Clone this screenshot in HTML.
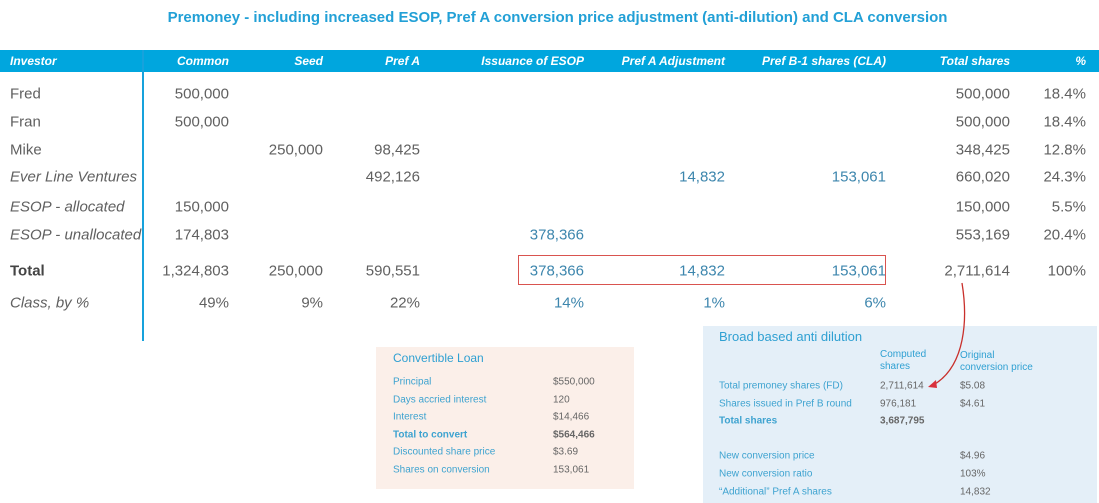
<!DOCTYPE html>
<html><head><meta charset="utf-8"><style>
body{margin:0;width:1099px;height:503px;background:#fff;position:relative;overflow:hidden;font-family:"Liberation Sans",sans-serif}
.a{position:absolute;white-space:nowrap}
.h{color:#fff;font-weight:bold;font-style:italic;font-size:12px;top:54px}
.c{font-size:15px;color:#606060;transform:translateY(-50%)}
.b{color:#3d86ad}
.s{font-size:10px;color:#3ea3d0;transform:translateY(-50%)}
.v{font-size:10px;color:#666;transform:translateY(-50%)}
</style></head><body>
<div class="a" style="left:0;width:1115px;text-align:center;top:9px;font-size:15px;font-weight:bold;color:#22a0d6">Premoney - including increased ESOP, Pref A conversion price adjustment (anti-dilution) and CLA conversion</div>
<div class="a" style="left:0;top:50px;width:1099px;height:22px;background:#00a6de"></div>
<div class="a" style="left:142px;top:50px;width:2px;height:291px;background:#17a2dc"></div>
<div id="tbl"></div>
<div class="a" style="left:518px;top:255px;width:368px;height:30px;border:1.5px solid #d9534f;box-sizing:border-box"></div>
<div class="a" style="left:376px;top:347px;width:258px;height:142px;background:#fbefe9"></div>
<div class="a" style="left:703px;top:326px;width:394px;height:177px;background:#e4eff8"></div>
<div class="a" style="left:393px;top:351px;font-size:12px;color:#2fa0d2">Convertible Loan</div>
<div class="a" style="left:719px;top:329px;font-size:13px;color:#2fa0d2">Broad based anti dilution</div>
<div class="a" style="left:880px;top:349px;font-size:10px;color:#2fa0d2;line-height:12px">Computed<br>shares</div>
<div class="a" style="left:960px;top:350px;font-size:10px;color:#2fa0d2;line-height:12px">Original<br>conversion price</div>
<div id="side"></div>
<svg class="a" style="left:0;top:0" width="1099" height="503">
<path d="M962 283 C 968 320, 965 365, 935 384" fill="none" stroke="#c9302c" stroke-width="1.3"/>
<polygon points="928,387 936,380 937,388" fill="#d9303c"/>
</svg>
<script>
const headers=["Investor","Common","Seed","Pref A","Issuance of ESOP","Pref A Adjustment","Pref B-1 shares (CLA)","Total shares","%"];
const colRight=[0,229,323,420,584,725,886,1010,1086];
const investors=["Fred","Fran","Mike","Ever Line Ventures","ESOP - allocated","ESOP - unallocated","Total","Class, by %"];
const common=["500,000","500,000","","","150,000","174,803","1,324,803","49%"];
const seed=["","","250,000","","","","250,000","9%"];
const prefA=["","","98,425","492,126","","","590,551","22%"];
const esop=["","","","","","378,366","378,366","14%"];
const adj=["","","","14,832","","","14,832","1%"];
const cla=["","","","153,061","","","153,061","6%"];
const total=["500,000","500,000","348,425","660,020","150,000","553,169","2,711,614",""];
const pct=["18.4%","18.4%","12.8%","24.3%","5.5%","20.4%","100%",""];
const rowY=[94,122,150,177,207,235,271,303];
const T=document.getElementById('tbl');
function add(p,cls,txt,style){const d=document.createElement('div');d.className='a '+cls;d.textContent=txt;d.style.cssText=style;p.appendChild(d);return d;}
headers.forEach((h,i)=>{
 const d=i==0?add(T,'h',h,'left:10px'):add(T,'h',h,'right:'+(1099-colRight[i])+'px');
 
 
});
const cols=[common,seed,prefA,esop,adj,cla,total,pct];
investors.forEach((n,r)=>{
 const it=[3,4,5,7].includes(r), bold=r==6;
 const d=add(T,'c',n,'left:10px;top:'+rowY[r]+'px;'+(it?'font-style:italic;':'')+(bold?'font-weight:bold;color:#444;':''));
 
 
 cols.forEach((col,c)=>{
  if(!col[r])return;
  const e=add(T,'c'+(c>=3&&c<=5?' b':''),col[r],'right:'+(1099-colRight[c+1])+'px;top:'+rowY[r]+'px');
  
  
 });
});
const S=document.getElementById('side');
const clLabels=["Principal","Days accried interest","Interest","Total to convert","Discounted share price","Shares on conversion"];
const clValues=["$550,000","120","$14,466","$564,466","$3.69","153,061"];
clLabels.forEach((l,i)=>{
 const y=382+i*17.6,b=i==3?'font-weight:bold;':'';
 const a=add(S,'s',l,'left:393px;top:'+y+'px;'+b);
 
 
 const v=add(S,'v',clValues[i],'left:553px;top:'+y+'px;'+b);
 
 
});
const adLabels=["Total premoney shares (FD)","Shares issued in Pref B round","Total shares","","New conversion price","New conversion ratio","\u201cAdditional\u201d Pref A shares"];
const adShares=["2,711,614","976,181","3,687,795","","","",""];
const adPrice=["$5.08","$4.61","","","$4.96","103%","14,832"];
adLabels.forEach((l,i)=>{
 const y=386+i*17.6,b=i==2?'font-weight:bold;':'';
 if(l){const a=add(S,'s',l,'left:719px;top:'+y+'px;'+b);
 
 }
 if(adShares[i]){const v=add(S,'v',adShares[i],'left:880px;top:'+y+'px;'+b);
 
 }
 if(adPrice[i]){const p=add(S,'v',adPrice[i],'left:960px;top:'+y+'px');
 
 }
});
</script>
</body></html>
